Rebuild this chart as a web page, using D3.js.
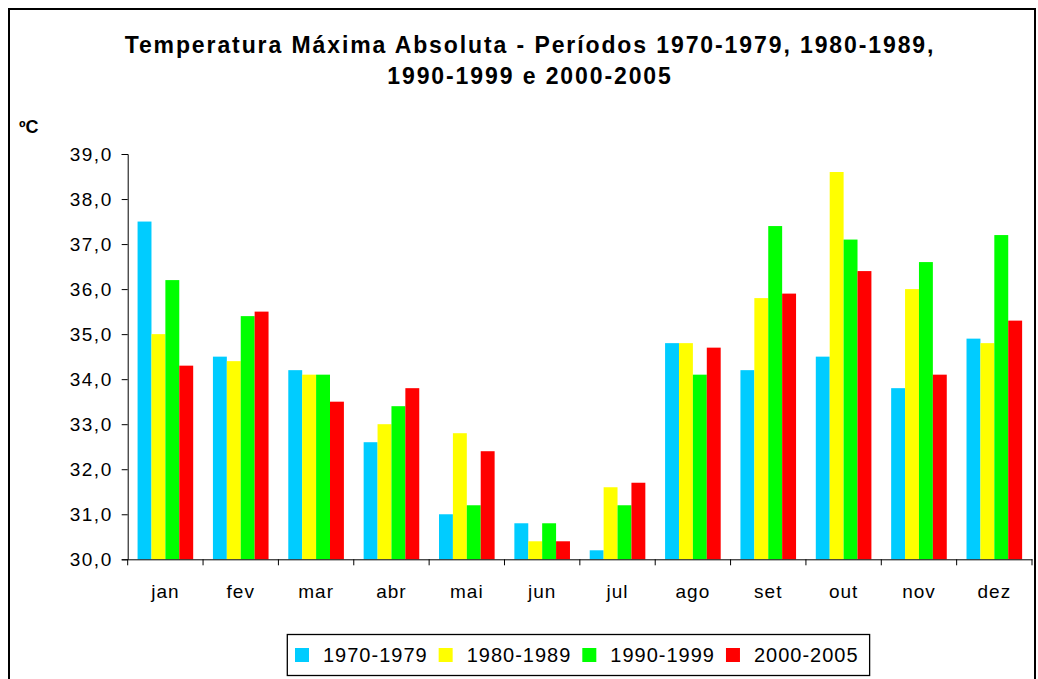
<!DOCTYPE html>
<html>
<head>
<meta charset="utf-8">
<script src="https://cdn.jsdelivr.net/npm/d3@7"></script>
<style>
  html, body { margin: 0; padding: 0; background: #fff; }
  svg { display: block; font-family: "Liberation Sans", Arial, sans-serif; }
</style>
</head>
<body>
<svg id="chart" width="1038" height="679"></svg>
<script>
const months = ["jan", "fev", "mar", "abr", "mai", "jun", "jul", "ago", "set", "out", "nov", "dez"];
const periods = ["1970-1979", "1980-1989", "1990-1999", "2000-2005"];
const s1970 = [37.5, 34.5, 34.2, 32.6, 31.0, 30.8, 30.2, 34.8, 34.2, 34.5, 33.8, 34.9];
const s1980 = [35.0, 34.4, 34.1, 33.0, 32.8, 30.4, 31.6, 34.8, 35.8, 38.6, 36.0, 34.8];
const s1990 = [36.2, 35.4, 34.1, 33.4, 31.2, 30.8, 31.2, 34.1, 37.4, 37.1, 36.6, 37.2];
const s2000 = [34.3, 35.5, 33.5, 33.8, 32.4, 30.4, 31.7, 34.7, 35.9, 36.4, 34.1, 35.3];
const seriesValues = [s1970, s1980, s1990, s2000];
const colors = ["#00CCFF", "#FFFF00", "#00FF00", "#FF0000"];
const yTicks = [30, 31, 32, 33, 34, 35, 36, 37, 38, 39];
const titleLines = ["Temperatura Máxima Absoluta - Períodos 1970-1979, 1980-1989,", "1990-1999 e 2000-2005"];
const yUnit = "ºC";

const svg = d3.select("#chart");

// outer border
svg.append("rect")
  .attr("x", 9).attr("y", 9).attr("width", 1026).attr("height", 720)
  .attr("fill", "none").attr("stroke", "#000").attr("stroke-width", 2);

const plot = { left: 127.7, right: 1032, top: 154, bottom: 559.3 };

const x = d3.scaleBand().domain(months).range([plot.left, plot.right]).paddingInner(0).paddingOuter(0);
const xs = d3.scaleBand().domain(periods).range([0, x.bandwidth()]).paddingInner(0).paddingOuter(0.71);
const y = d3.scaleLinear().domain([30, 39]).range([plot.bottom, plot.top]);

// title
svg.append("g").selectAll("text").data(titleLines).join("text")
  .attr("x", 530).attr("y", (d, i) => 53 + i * 31)
  .attr("text-anchor", "middle")
  .attr("font-size", 23).attr("font-weight", "bold")
  .attr("letter-spacing", "1.9px")
  .attr("fill", "#000")
  .text(d => d);

svg.append("text").attr("x", 19).attr("y", 133)
  .attr("font-size", 18).attr("font-weight", "bold").text(yUnit);

// bars
const data = [];
months.forEach((m, i) => periods.forEach((p, j) => data.push({ m, p, v: seriesValues[j][i], c: colors[j] })));
svg.append("g").selectAll("rect").data(data).join("rect")
  .attr("x", d => x(d.m) + xs(d.p))
  .attr("width", xs.bandwidth())
  .attr("y", d => y(d.v))
  .attr("height", d => y(30) - y(d.v))
  .attr("fill", d => d.c);

// y axis
const yAxis = d3.axisLeft(y).tickValues(yTicks).tickSize(6).tickPadding(9)
  .tickFormat(d => d3.format(".1f")(d).replace(".", ","));
const gy = svg.append("g").attr("transform", `translate(${plot.left},0)`).call(yAxis);
gy.select(".domain").attr("stroke", "#000");
gy.selectAll(".tick line").attr("stroke", "#000");
gy.selectAll(".tick text").attr("font-size", 19).attr("letter-spacing", "1.5px")
  .attr("fill", "#000").attr("font-family", "Liberation Sans, Arial, sans-serif");

// x axis
const xAxis = d3.axisBottom(x).tickSize(0).tickPadding(25);
const gx = svg.append("g").attr("transform", `translate(0,${plot.bottom})`).call(xAxis);
gx.select(".domain").attr("stroke", "#000");
gx.selectAll(".tick text").attr("font-size", 19).attr("letter-spacing", "1px")
  .attr("fill", "#000").attr("font-family", "Liberation Sans, Arial, sans-serif");
const boundaries = months.map(m => x(m)).concat([x(months[months.length - 1]) + x.step()]);
gx.selectAll(".bnd").data(boundaries).join("line").attr("class", "bnd")
  .attr("x1", d => d).attr("x2", d => d).attr("y1", 0).attr("y2", 6)
  .attr("stroke", "#000");

// legend
const leg = svg.append("g");
const legBox = leg.append("rect").attr("fill", "#fff").attr("stroke", "#000").attr("stroke-width", 1.3);
let lx = 295;
periods.forEach((p, i) => {
  leg.append("rect").attr("x", lx).attr("y", 648).attr("width", 14).attr("height", 14).attr("fill", colors[i]);
  const t = leg.append("text").attr("x", lx + 28).attr("y", 661.5)
    .attr("font-size", 20).attr("letter-spacing", "1px").attr("fill", "#000").text(p);
  const w = t.node().getComputedTextLength();
  lx = lx + 28 + w + 11;
});
legBox.attr("x", 287.3).attr("y", 634.5).attr("width", lx - 11 + 11 - 287.3).attr("height", 41);
</script>
</body>
</html>
